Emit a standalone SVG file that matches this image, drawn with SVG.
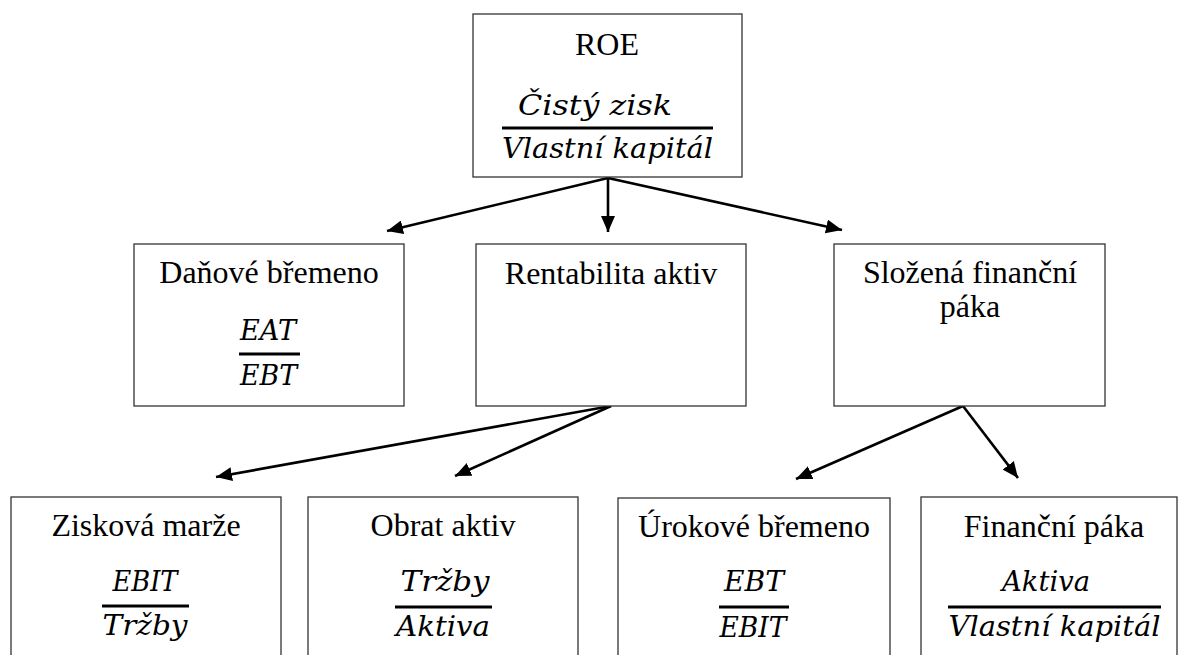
<svg xmlns="http://www.w3.org/2000/svg" width="1179" height="655" viewBox="0 0 1179 655">
<style>
.box{fill:#fff;stroke:#333;stroke-width:1.3}
.t{font-family:"Liberation Serif","Times New Roman",serif;font-size:32px;fill:#000;text-anchor:middle}
.m{font-family:"DejaVu Serif","Liberation Serif",serif;font-style:italic;font-size:27px;fill:#000;text-anchor:middle}
.bar{stroke:#000;stroke-width:3}
.c{stroke:#000;stroke-width:2.6;fill:none;marker-end:url(#ah)}
</style>
<defs>
<marker id="ah" markerUnits="userSpaceOnUse" markerWidth="18" markerHeight="14" refX="16" refY="7" orient="auto">
<path d="M0,0 L16,7 L0,14 z" fill="#000"/>
</marker>
</defs>
<rect width="1179" height="655" fill="#fff"/>
<g id="connectors">
<line class="c" x1="608" y1="178" x2="387" y2="231"/>
<line class="c" x1="608" y1="178" x2="608" y2="232"/>
<line class="c" x1="608" y1="178" x2="842" y2="230"/>
<line class="c" x1="611" y1="406" x2="216" y2="477"/>
<line class="c" x1="611" y1="406" x2="455" y2="476"/>
<line class="c" x1="963" y1="406" x2="796" y2="479"/>
<line class="c" x1="963" y1="406" x2="1018" y2="478"/>
</g>
<g id="roe">
<rect class="box" x="473" y="14" width="269" height="163"/>
<text class="t" x="607" y="55">ROE</text>
<text class="m" x="595" y="115" textLength="154" lengthAdjust="spacingAndGlyphs">Čistý zisk</text>
<line class="bar" x1="502" y1="128" x2="713" y2="128"/>
<text class="m" x="607.5" y="158" textLength="211" lengthAdjust="spacingAndGlyphs">Vlastní kapitál</text>
</g>
<g id="danove-bremeno">
<rect class="box" x="134" y="244" width="270" height="162"/>
<text class="t" x="269" y="283">Daňové břemeno</text>
<text class="m" x="268" y="340" textLength="56" lengthAdjust="spacingAndGlyphs">EAT</text>
<line class="bar" x1="239" y1="354" x2="300" y2="354"/>
<text class="m" x="268.5" y="385" textLength="57" lengthAdjust="spacingAndGlyphs">EBT</text>
</g>
<g id="rentabilita-aktiv">
<rect class="box" x="476" y="244" width="270" height="162"/>
<text class="t" x="611" y="284">Rentabilita aktiv</text>
</g>
<g id="slozena-financni-paka">
<rect class="box" x="834" y="244" width="271" height="162"/>
<text class="t" x="970" y="283">Složená finanční</text>
<text class="t" x="970" y="317">páka</text>
</g>
<g id="ziskova-marze">
<rect class="box" x="11" y="497" width="270" height="170"/>
<text class="t" x="146" y="536">Zisková marže</text>
<text class="m" x="145" y="591" textLength="65" lengthAdjust="spacingAndGlyphs">EBIT</text>
<line class="bar" x1="102" y1="606" x2="189" y2="606"/>
<text class="m" x="145" y="635" textLength="85" lengthAdjust="spacingAndGlyphs">Tržby</text>
</g>
<g id="obrat-aktiv">
<rect class="box" x="308" y="497" width="270" height="170"/>
<text class="t" x="443" y="536">Obrat aktiv</text>
<text class="m" x="445" y="591" textLength="89" lengthAdjust="spacingAndGlyphs">Tržby</text>
<line class="bar" x1="395" y1="607" x2="492" y2="607"/>
<text class="m" x="443" y="636" textLength="94" lengthAdjust="spacingAndGlyphs">Aktiva</text>
</g>
<g id="urokove-bremeno">
<rect class="box" x="618" y="498" width="272" height="170"/>
<text class="t" x="754" y="537">Úrokové břemeno</text>
<text class="m" x="754" y="591" textLength="60" lengthAdjust="spacingAndGlyphs">EBT</text>
<line class="bar" x1="719" y1="607" x2="789" y2="607"/>
<text class="m" x="753" y="637" textLength="67" lengthAdjust="spacingAndGlyphs">EBIT</text>
</g>
<g id="financni-paka">
<rect class="box" x="921" y="497" width="256" height="170"/>
<text class="t" x="1054" y="537">Finanční páka</text>
<text class="m" x="1046" y="591" textLength="88" lengthAdjust="spacingAndGlyphs">Aktiva</text>
<line class="bar" x1="948" y1="607" x2="1161" y2="607"/>
<text class="m" x="1054.5" y="636" textLength="212" lengthAdjust="spacingAndGlyphs">Vlastní kapitál</text>
</g>
</svg>
